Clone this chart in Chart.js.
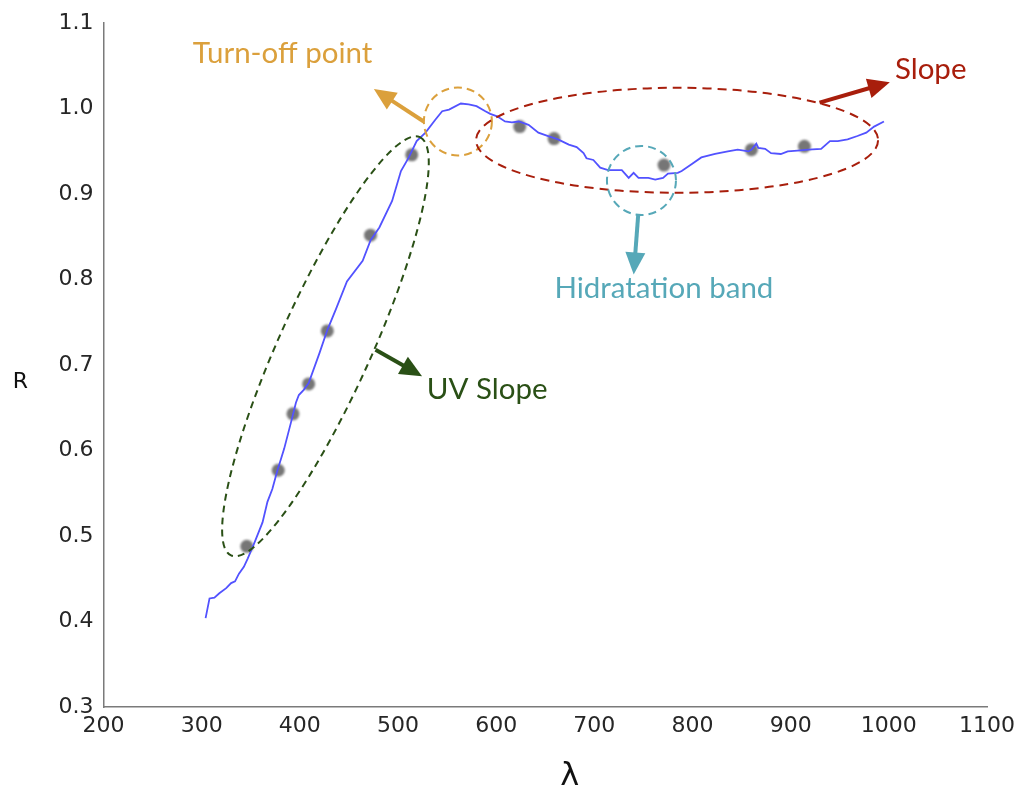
<!DOCTYPE html>
<html>
<head>
<meta charset="utf-8">
<title>Reflectance spectrum</title>
<script src="https://cdn.jsdelivr.net/npm/chart.js@4/dist/chart.umd.min.js"></script>
<style>
  html, body { margin: 0; padding: 0; background: #ffffff; }
  #wrap { width: 1021px; height: 794px; position: relative; }
</style>
</head>
<body>
<div id="wrap"><canvas id="spectrum"></canvas></div>
<script>
// Measured reflectance spectrum (wavelength in nm, relative reflectance R)
const wavelength = [
  304, 308, 313, 318, 325, 330, 334, 338, 343, 347, 354, 362, 367, 372, 377, 384,
  391, 396, 399, 404, 409, 420, 428, 437, 448, 464, 472, 481, 494, 503, 511, 519,
  528, 538, 545, 552, 564, 572, 580, 589, 594, 601, 609, 616, 623, 633, 643, 653,
  663, 674, 682, 689, 692, 699, 706, 714, 728, 735, 740, 745, 755, 762, 770, 775,
  785, 789, 799, 809, 823, 836, 846, 857, 860, 865, 867, 874, 880, 890, 897, 907,
  918, 931, 940, 948, 958, 968, 977, 985, 995
];
const reflectance = [
  0.404, 0.427, 0.428, 0.433, 0.439, 0.445, 0.447, 0.456, 0.464, 0.474, 0.493, 0.516,
  0.540, 0.555, 0.576, 0.602, 0.633, 0.656, 0.665, 0.671, 0.679, 0.714, 0.741, 0.766,
  0.798, 0.822, 0.846, 0.861, 0.892, 0.927, 0.943, 0.962, 0.972, 0.987, 0.997, 0.999,
  1.006, 1.005, 1.003, 0.997, 0.994, 0.991, 0.985, 0.984, 0.985, 0.981, 0.972, 0.968,
  0.964, 0.958, 0.955, 0.948, 0.942, 0.940, 0.931, 0.928, 0.928, 0.919, 0.925, 0.919,
  0.919, 0.917, 0.919, 0.924, 0.925, 0.927, 0.935, 0.943, 0.947, 0.950, 0.952, 0.950,
  0.952, 0.959, 0.954, 0.953, 0.948, 0.947, 0.950, 0.951, 0.952, 0.953, 0.962, 0.962,
  0.964, 0.968, 0.972, 0.979, 0.985
];

// Broad-band photometric samples
const sampleWavelength = [346, 378, 393, 409, 428, 472, 514, 624, 659, 771, 860, 914];
const sampleReflectance = [0.488, 0.577, 0.643, 0.678, 0.740, 0.852, 0.946, 0.979, 0.965, 0.934, 0.952, 0.956];

// Axis ticks
const xTicks = [200, 300, 400, 500, 600, 700, 800, 900, 1000, 1100];
const yTicks = [0.3, 0.4, 0.5, 0.6, 0.7, 0.8, 0.9, 1.0, 1.1];

const spectrumPoints = wavelength.map((w, i) => ({ x: w, y: reflectance[i] }));
const samplePoints = sampleWavelength.map((w, i) => ({ x: w, y: sampleReflectance[i] }));

// Feature markers: centres in data units, radii in pixels
const ORANGE = 'rgb(219,160,60)';
const RED = 'rgb(168,30,12)';
const TEAL = 'rgb(86,168,184)';
const GREEN = 'rgb(42,80,22)';

const featureEllipses = [
  { x: 426.1, y: 0.722, rx: 229.5, ry: 46, rot: -65.7, color: GREEN, dash: [7, 5] },
  { x: 561.0, y: 0.985, rx: 34, ry: 34, rot: 0, color: ORANGE, dash: [8, 5] },
  { x: 784.3, y: 0.963, rx: 201, ry: 52.5, rot: 0, color: RED, dash: [9, 6] },
  { x: 748.0, y: 0.916, rx: 34.5, ry: 34.5, rot: 0, color: TEAL, dash: [8, 5] }
];

const featureArrows = [
  { from: [526.2, 0.985], to: [475.4, 1.023], color: ORANGE },
  { from: [929.4, 1.007], to: [1001.0, 1.031], color: RED },
  { from: [744.7, 0.876], to: [740.1, 0.806], color: TEAL },
  { from: [477.1, 0.718], to: [524.5, 0.687], color: GREEN }
];

const featureLabels = [
  { text: 'Turn-off point', x: 290.8, y: 1.053, color: ORANGE },
  { text: 'Slope', x: 1006.2, y: 1.0345, color: RED },
  { text: 'Hidratation band', x: 659.3, y: 0.7787, color: TEAL },
  { text: 'UV Slope', x: 529.3, y: 0.660, color: GREEN }
];

const LABEL_FONT = '29.5px Lato, "Open Sans", sans-serif';

function drawArrow(ctx, x0, y0, x1, y1, color) {
  const ang = Math.atan2(y1 - y0, x1 - x0);
  const headLen = 22, headHalf = 10;
  const bx = x1 - headLen * Math.cos(ang), by = y1 - headLen * Math.sin(ang);
  ctx.save();
  ctx.setLineDash([]);
  ctx.strokeStyle = color;
  ctx.fillStyle = color;
  ctx.lineWidth = 4;
  ctx.lineCap = 'butt';
  ctx.beginPath();
  ctx.moveTo(x0, y0);
  ctx.lineTo(bx + 2 * Math.cos(ang), by + 2 * Math.sin(ang));
  ctx.stroke();
  ctx.beginPath();
  ctx.moveTo(x1, y1);
  ctx.lineTo(bx + headHalf * Math.sin(ang), by - headHalf * Math.cos(ang));
  ctx.lineTo(bx - headHalf * Math.sin(ang), by + headHalf * Math.cos(ang));
  ctx.closePath();
  ctx.fill();
  ctx.restore();
}

const featurePlugin = {
  id: 'features',
  afterDatasetsDraw(chart) {
    const { ctx, scales: { x, y } } = chart;
    ctx.save();
    featureEllipses.forEach(e => {
      ctx.beginPath();
      ctx.setLineDash(e.dash);
      ctx.strokeStyle = e.color;
      ctx.lineWidth = 2;
      ctx.ellipse(x.getPixelForValue(e.x), y.getPixelForValue(e.y), e.rx, e.ry,
        e.rot * Math.PI / 180, 0, Math.PI * 2);
      ctx.stroke();
    });
    featureArrows.forEach(a => {
      drawArrow(ctx,
        x.getPixelForValue(a.from[0]), y.getPixelForValue(a.from[1]),
        x.getPixelForValue(a.to[0]), y.getPixelForValue(a.to[1]), a.color);
    });
    ctx.font = LABEL_FONT;
    ctx.textAlign = 'left';
    ctx.textBaseline = 'alphabetic';
    featureLabels.forEach(l => {
      ctx.fillStyle = l.color;
      ctx.fillText(l.text, x.getPixelForValue(l.x), y.getPixelForValue(l.y));
    });
    ctx.restore();
  },
  afterDraw(chart) {
    // Axis titles, drawn upright
    const { ctx, chartArea, scales: { x, y } } = chart;
    ctx.save();
    ctx.fillStyle = '#111111';
    ctx.textAlign = 'center';
    ctx.textBaseline = 'middle';
    ctx.font = '22px "DejaVu Sans", sans-serif';
    ctx.fillText('R', chartArea.left - 83, y.getPixelForValue(0.68));
    ctx.font = '32px "DejaVu Sans", sans-serif';
    ctx.fillText('λ', x.getPixelForValue(675), chartArea.bottom + 70);
    ctx.restore();
  }
};

// Soft rendering for the sample dots
const softDotsPlugin = {
  id: 'softDots',
  beforeDatasetDraw(chart, args) {
    if (args.index === 1) {
      chart.ctx.save();
      chart.ctx.filter = 'blur(1px)';
    }
  },
  afterDatasetDraw(chart, args) {
    if (args.index === 1) chart.ctx.restore();
  }
};

const tickFont = { family: '"DejaVu Sans", sans-serif', size: 22 };

new Chart(document.getElementById('spectrum'), {
  data: {
    datasets: [
      {
        type: 'line',
        label: 'Spectrum',
        data: spectrumPoints,
        borderColor: 'rgb(82,82,255)',
        borderWidth: 1.8,
        pointRadius: 0,
        tension: 0,
        fill: false
      },
      {
        type: 'scatter',
        label: 'Photometry',
        data: samplePoints,
        backgroundColor: 'rgb(118,118,118)',
        borderColor: 'rgb(118,118,118)',
        borderWidth: 0,
        pointRadius: 6.5
      }
    ]
  },
  options: {
    responsive: true,
    maintainAspectRatio: false,
    animation: false,
    devicePixelRatio: 1,
    layout: { padding: { left: 0, right: 31, top: 18, bottom: 0 } },
    plugins: { legend: { display: false }, tooltip: { enabled: false } },
    scales: {
      x: {
        type: 'linear',
        min: 200,
        max: 1100,
        grid: { display: false, drawTicks: false },
        border: { display: true, color: '#7a7a7a', width: 1.5 },
        afterBuildTicks: s => { s.ticks = xTicks.map(v => ({ value: v })); },
        ticks: { font: tickFont, color: '#262626', padding: 6, maxRotation: 0, autoSkip: false,
                 callback: v => String(v) },
        afterFit: s => { s.height = 87; }
      },
      y: {
        type: 'linear',
        min: 0.3,
        max: 1.1,
        grid: { display: false, drawTicks: false },
        border: { display: true, color: '#7a7a7a', width: 1.5 },
        afterBuildTicks: s => { s.ticks = yTicks.map(v => ({ value: v })); },
        ticks: { font: tickFont, color: '#262626', padding: 10, autoSkip: false,
                 callback: v => Number(v).toFixed(1) },
        afterFit: s => { s.width = 103.5; }
      }
    }
  },
  plugins: [featurePlugin, softDotsPlugin]
});
</script>
</body>
</html>
